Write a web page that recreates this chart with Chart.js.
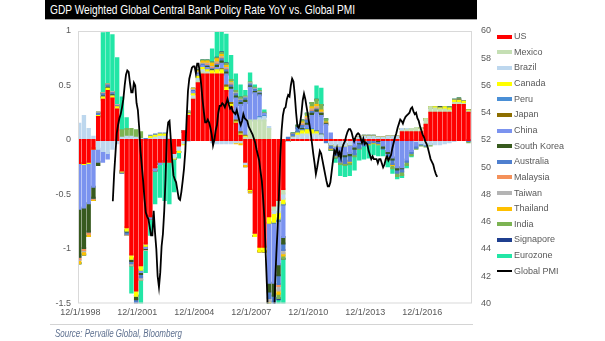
<!DOCTYPE html>
<html>
<head>
<meta charset="utf-8">
<script src="https://cdn.jsdelivr.net/npm/chart.js@4.4.1/dist/chart.umd.min.js"></script>
<style>
body{margin:0;background:#fff;}
#wrap{position:relative;width:605px;height:341px;overflow:hidden;font-family:'Liberation Sans Narrow','Liberation Sans',Arial,sans-serif;}
#c{position:absolute;left:0;top:0;}
#titlebar{position:absolute;left:45px;top:0;width:432px;height:19px;background:#000;border-bottom:1px solid #a6a6a6;}
#ttl{position:absolute;left:5px;top:2px;color:#fff;font-size:13px;white-space:nowrap;transform-origin:0 0;}
#legend{position:absolute;left:497px;top:0;width:100px;height:300px;}
.li{position:absolute;left:0;height:12px;line-height:12px;white-space:nowrap;font-size:9px;color:#595959;}
.sw{display:inline-block;width:15px;height:4px;vertical-align:middle;margin-right:2px;}
#rule{position:absolute;left:50px;top:324px;width:423px;height:0;border-top:1px solid #d4d4d4;}
#src{position:absolute;left:55px;top:328px;font-style:italic;font-size:10px;color:#5f7190;white-space:nowrap;transform-origin:0 0;}
</style>
</head>
<body>
<div id="wrap">
  <canvas id="c" width="605" height="341"></canvas>
  <div id="titlebar"><span id="ttl">GDP Weighted Global Central Bank Policy Rate YoY vs. Global PMI</span></div>
  <div id="legend"></div>
  <div id="rule"></div>
  <div id="src">Source: Pervalle Global, Bloomberg</div>
</div>
<script>
// quarterly categories, Dec 1998 .. Jun 2019
var quarters = ["12/1/1998",
  "3/1/1999","6/1/1999","9/1/1999","12/1/1999","3/1/2000","6/1/2000","9/1/2000","12/1/2000",
  "3/1/2001","6/1/2001","9/1/2001","12/1/2001","3/1/2002","6/1/2002","9/1/2002","12/1/2002",
  "3/1/2003","6/1/2003","9/1/2003","12/1/2003","3/1/2004","6/1/2004","9/1/2004","12/1/2004",
  "3/1/2005","6/1/2005","9/1/2005","12/1/2005","3/1/2006","6/1/2006","9/1/2006","12/1/2006",
  "3/1/2007","6/1/2007","9/1/2007","12/1/2007","3/1/2008","6/1/2008","9/1/2008","12/1/2008",
  "3/1/2009","6/1/2009","9/1/2009","12/1/2009","3/1/2010","6/1/2010","9/1/2010","12/1/2010",
  "3/1/2011","6/1/2011","9/1/2011","12/1/2011","3/1/2012","6/1/2012","9/1/2012","12/1/2012",
  "3/1/2013","6/1/2013","9/1/2013","12/1/2013","3/1/2014","6/1/2014","9/1/2014","12/1/2014",
  "3/1/2015","6/1/2015","9/1/2015","12/1/2015","3/1/2016","6/1/2016","9/1/2016","12/1/2016",
  "3/1/2017","6/1/2017","9/1/2017","12/1/2017","3/1/2018","6/1/2018","9/1/2018","12/1/2018",
  "3/1/2019","6/1/2019"];
var tickLabels = ["12/1/1998","12/1/2001","12/1/2004","12/1/2007","12/1/2010","12/1/2013","12/1/2016"];

// rows: Dec98 + 1999-2003 | 2004-2008 | 2009-2013 | 2014-2018 | 2019
var us = [-0.21, -0.21,-0.20,-0.08,0.21, 0.37,0.45,0.38,0.28, -0.28,-0.80,-1.05,-1.38, -1.15,-0.95,-0.70,-0.25, -0.20,-0.20,-0.20,-0.12,
  -0.05,0.08,0.22,0.37, 0.52,0.60,0.60,0.60, 0.60,0.60,0.45,0.30, 0.15,0.04,-0.20,-0.45, -0.85,-0.98,-0.98,-0.70,
  -0.60,-0.55,-0.45,0, 0,0,0,0, 0,0,0,0, 0,0,0,0, 0,0,0,0,
  0,0,0,0, 0,0,0,0.07, 0.07,0.07,0.07,0.07, 0.14,0.25,0.25,0.25, 0.25,0.25,0.32,0.32,
  0.32,0.25];
var mexico = [0, 0,0,0,0, 0,0,0,0, 0,0,0,0, 0,0,0,0, 0,0,0,0,
  0,0,0.01,0.01, 0.02,0.02,0.01,0, 0,0,0,0, 0,0,0.02,0.18, 0.18,0.18,0.18,0.10,
  -0.04,-0.05,-0.04,0, 0,0,0,0, 0,0,0,0, 0,0,0,0, 0,0,0,0,
  0,0,0,0, 0,0,0,0.01, 0.02,0.03,0.04,0.04, 0.05,0.05,0.04,0.03, 0.03,0.02,0.02,0.02,
  0.01,0.01];
var brazil = [0.15, 0.22,0.10,0.03,-0.08, -0.10,-0.12,-0.08,-0.03, 0.02,0.03,0.03,0.02, 0.01,0,0.01,0.02, 0.03,0.03,0.01,-0.04,
  -0.04,-0.03,-0.01,0.02, 0.02,0.02,0.01,-0.02, -0.03,-0.03,-0.03,-0.03, -0.02,-0.02,-0.02,0, 0,0.02,0.03,0.02,
  -0.03,-0.06,-0.05,-0.01, 0.02,0.04,0.05,0.05, 0.05,0.05,0.04,0, -0.04,-0.05,-0.05,-0.05, -0.04,0.01,0.02,0.03,
  0.03,0.03,0.02,0.02, 0.03,0.03,0.03,0.02, 0.01,0,-0.01,-0.03, -0.04,-0.04,-0.04,-0.04, -0.03,-0.02,-0.01,0,
  0,0];
var canada = [0, -0.01,-0.01,0,0.01, 0.02,0.02,0.02,0.02, -0.01,-0.03,-0.04,-0.05, -0.04,-0.02,0.02,0.02, 0.02,0.02,0,-0.01,
  -0.02,-0.01,0.01,0.02, 0.02,0.02,0.02,0.03, 0.04,0.04,0.03,0.02, 0.01,0.01,0.01,-0.01, -0.03,-0.04,-0.04,-0.06,
  -0.08,-0.06,-0.04,0, 0,0.02,0.03,0.04, 0.04,0.02,0,0, 0,0,0,0, 0,0,0,0,
  0,0,0,0, 0,0,0,0, 0,0,0,0, 0,0,0.01,0.01, 0.02,0.02,0.02,0.02,
  0.02,0.01];
var peru = [0, 0,0,0,0, 0,0,0,0, 0,0,0,0, 0,0,0,0, 0,0,0,0,
  0,0,0,0, 0,0,0,0, 0,0,0,0, 0,0,0,0, 0,0.01,0.01,0,
  -0.01,-0.02,-0.01,0, 0,0.01,0.01,0.01, 0.01,0.01,0.01,0, 0,0,0,0, 0,0,0,0,
  0,0,0,0, 0,0,0,0, 0,0,0,0, 0,0,0,0, 0,0,0,0,
  0,0];
var japan = [0, 0,0,0,0, 0,0,0,0, 0,0,0,0, 0,0,0,0, 0,0,0,0,
  0,0,0,0, 0,0,0,0, 0,0.01,0.02,0.02, 0.02,0.02,0.01,0, 0,0,0,0,
  0,0,0,0, 0,0,0,0, 0,0,0,0, 0,0,0,0, 0,0,0,0,
  0,0,0,0, 0,0,0,0, 0,0,0,0, 0,0,0,0, 0,0,0,0,
  0,0];
var china = [-0.42, -0.40,-0.37,-0.35,-0.12, -0.10,-0.05,0,0, 0,0,0,0, -0.02,-0.02,-0.02,-0.03, -0.02,0,0,0,
  0,0,0,0.02, 0.02,0.02,0.02,0, 0.02,0.05,0.10,0.12, 0.20,0.25,0.30,0.30, 0.25,0.20,0.02,-0.55,
  -0.55,-0.40,-0.30,0, 0,0,0,0.03, 0.12,0.17,0.17,0.14, 0.06,-0.03,-0.08,-0.08, -0.08,-0.06,-0.02,0,
  0,0,0,-0.05, -0.10,-0.16,-0.25,-0.25, -0.18,-0.10,-0.04,0, 0,0,0,0, 0,0,0,0,
  0,0];
var southKorea = [-0.44, -0.37,-0.26,-0.10,-0.03, 0.01,0.01,0.01,0, 0,-0.01,-0.02,-0.03, -0.02,-0.01,0,0, 0,0,0,0,
  0,0,0,0, 0,0,0.01,0.01, 0.02,0.02,0.02,0.02, 0.02,0.02,0.02,0.01, 0.01,0.01,0,-0.08,
  -0.12,-0.10,-0.06,0, 0,0,0.01,0.02, 0.02,0.02,0.02,0.01, 0,-0.01,-0.02,-0.02, -0.02,-0.02,-0.01,-0.01,
  0,0,-0.01,-0.02, -0.02,-0.02,-0.02,-0.01, 0,0,0,0, 0,0,0,0.01, 0,0,0,0.01,
  0,0];
var australia = [0, 0,0,0,0.02, 0.02,0.02,0.02,0.01, -0.01,-0.02,-0.02,-0.03, -0.03,0.01,0.01,0.01, 0.01,0.01,0,0,
  0,0,0.01,0.01, 0.01,0.01,0.01,0.01, 0.01,0.02,0.02,0.02, 0.02,0.02,0.02,0.02, 0.02,0.01,0,-0.06,
  -0.10,-0.08,-0.06,0.02, 0.03,0.04,0.03,0.03, 0.02,0.01,0,-0.02, -0.03,-0.05,-0.05,-0.06, -0.05,-0.05,-0.04,-0.04,
  -0.03,-0.02,-0.02,-0.01, -0.03,-0.04,-0.03,-0.03, -0.02,-0.02,-0.02,-0.01, -0.01,0,0,0, 0,0,0,0,
  0,-0.01];
var malaysia = [-0.02, -0.02,-0.02,-0.01,0, 0,0,0,0, 0,0,0,0, 0,0,0,0, 0,0,0,0,
  0,0,0,0, 0,0,0.01,0.01, 0.01,0.01,0.01,0.01, 0,0,0,0, 0,0,0,0,
  -0.02,-0.02,0,0, 0,0,0.01,0.01, 0.01,0.01,0,0, 0,0,0,0, 0,0,0,0,
  0,0,0,0, 0,0,0,0, 0,0,0,0, 0,0,0,0, 0,0,0,0,
  0,0];
var taiwan = [-0.01, -0.01,0,0,0.01, 0.01,0.01,0.01,0.01, 0,-0.01,-0.02,-0.03, -0.02,-0.01,0,0, 0,0,0,0,
  0,0,0.01,0.01, 0.01,0.01,0.01,0.01, 0.01,0.01,0.01,0.01, 0.01,0.01,0.01,0.01, 0.01,0.01,0,-0.03,
  -0.05,-0.04,-0.03,0, 0,0,0.01,0.01, 0.01,0.01,0.01,0, 0,0,0,0, 0,0,0,0,
  0,0,0,0, 0,0,0,0, 0,0,0,0, 0,0,0,0, 0,0,0,0,
  0,0];
var thailand = [-0.03, -0.03,-0.02,-0.01,0, 0,0,0,0, 0,0,0,0, 0,0,0,0, 0,0,0,0,
  0,0,0,0.01, 0.01,0.02,0.02,0.03, 0.03,0.02,0.02,0.01, -0.01,-0.02,-0.02,-0.02, 0,0,0,-0.01,
  -0.03,-0.03,-0.02,0, 0,0,0.01,0.01, 0.02,0.02,0.02,0.01, -0.01,0,0,0, -0.01,0,0,0,
  -0.01,-0.01,-0.01,0, -0.01,-0.01,0,0, 0,0,0,0, 0,0,0,0, 0,0,0,0,
  0,0];
var india = [0, 0,0,0,0, 0,0,0,0, 0.07,0.07,0.07,0.07, 0.06,0,0,0, 0,0,0,0,
  0,0,0,0, 0.01,0.01,0.01,0.01, 0.01,0.02,0.02,0.02, 0.02,0.02,0.01,0.01, 0.01,0.01,0.01,0,
  -0.04,-0.04,-0.03,0, 0.01,0.02,0.02,0.03, 0.04,0.05,0.05,0.03, -0.01,-0.02,-0.02,-0.02, -0.02,-0.02,-0.01,0.01,
  0.01,0.01,0,0, -0.02,-0.03,-0.03,-0.03, -0.03,-0.02,-0.01,-0.01, -0.01,-0.01,0,0, 0,0.01,0.01,0.01,
  0,-0.01];
var singapore = [0, 0,0,0,0, 0,0,0,0, 0,0,0,0, 0,0,0,0, 0,0,0,0,
  0,0,0,0, 0,0,0,0, 0.005,0.005,0.005,0, 0,0,0,0, 0,0,0,0,
  -0.01,-0.01,0,0, 0,0,0,0, 0,0,0,0, 0,0,0,0, 0,0,0,0,
  0,0,0,0, 0,0,0,0, 0,0,0,0, 0,0,0,0, 0,0,0,0,
  0,0];
var eurozone = [0, 0,0,0,0, 0.55,0.49,0.52,0.43, 0.30,0.10,-0.25,-0.20, -0.35,-0.20,-0.15,-0.30, -0.30,-0.35,-0.38,-0.30,
  -0.05,0,0,0, 0,0,0,0.12, 0.25,0.22,0.26,0.22, 0.15,0.11,0.05,0.08, 0.02,0.02,0.02,-0.30,
  -0.40,-0.50,-0.80,0, 0,0,0,0, 0,0.12,0.15,0, 0,-0.04,-0.10,-0.10, -0.10,-0.12,-0.10,-0.12,
  -0.12,-0.10,-0.10,-0.06, -0.06,-0.04,-0.02,-0.02, -0.02,-0.01,0,0, 0,0,0,0, 0,0,0,0,
  0,0];

// Global PMI, monthly from Dec 1998 (right axis)
var pmi = [47.5,
  49.5,51.0,52.5,53.1,53.6,53.9,54.4,55.0,56.0,56.8,57.1,57.0,
  56.2,55.5,55.5,56.2,56.0,54.7,54.2,52.9,51.2,50.1,49.0,47.7,
  46.7,46.4,46.2,45.6,45.0,45.0,46.8,45.2,44.0,42.0,41.2,42.3,
  44.2,45.1,46.8,49.2,52.4,53.3,53.4,52.0,50.5,49.4,49.1,48.9,
  48.3,47.7,47.6,48.2,49.0,49.9,51.2,53.6,55.6,56.5,56.9,57.3,
  57.4,57.4,56.9,57.6,57.6,56.9,56.1,55.0,54.1,53.3,53.3,53.5,
  53.3,52.9,52.4,51.6,52.0,52.7,53.1,54.0,54.5,54.5,54.7,54.6,
  54.4,54.7,55.0,54.6,54.3,54.4,54.1,54.0,53.9,54.2,53.8,53.4,
  53.1,53.4,53.9,53.6,53.5,53.4,53.0,52.8,52.6,52.4,52.1,51.8,
  51.3,50.9,50.5,49.7,49.0,47.7,46.2,43.5,41.0,38.0,36.0,34.0,
  34.0,38.0,41.3,43.6,45.6,48.0,50.8,52.7,53.8,54.3,54.4,55.0,
  55.3,55.2,56.0,56.5,56.3,55.3,54.0,53.0,52.9,53.2,53.9,54.9,
  55.4,55.0,54.4,53.8,53.2,52.6,51.8,51.0,50.3,49.5,50.0,50.6,
  51.2,51.0,50.5,50.0,49.5,49.0,48.6,48.6,48.9,49.7,50.5,51.2,
  51.0,51.4,50.9,51.1,50.7,51.4,51.7,51.9,52.3,52.6,52.8,52.8,
  52.6,52.2,51.9,52.2,52.4,52.5,52.4,52.1,51.8,52.1,51.7,51.8,
  51.7,51.2,50.9,50.6,50.8,50.6,50.6,50.6,50.3,50.6,50.6,50.3,
  50.0,50.2,50.6,50.8,50.5,50.7,50.9,51.4,51.8,52.2,52.5,52.9,
  53.2,53.5,53.4,53.2,53.5,53.7,53.8,53.9,54.0,54.3,54.4,54.1,
  53.9,54.0,53.6,53.4,53.0,52.7,52.4,52.2,51.9,51.7,51.4,51.0,
  50.6,50.4,50.2,49.8,49.5,49.3];

var seriesNames = ["US","Mexico","Brazil","Canada","Peru","Japan","China","South Korea","Australia","Malaysia","Taiwan","Thailand","India","Signapore","Eurozone"];
var seriesData = [us, mexico, brazil, canada, peru, japan, china, southKorea, australia, malaysia, taiwan, thailand, india, singapore, eurozone];
var seriesColors = ["#ff0000","#c5dfb4","#bdd7ee","#ffff00","#4a8fd6","#8d6e00","#7b93ef","#375a1e","#4f7fcf","#f4915a","#b4b4b4","#ffc000","#7cb352","#1f3f8f","#22e6a6"];

var FONT = "'Liberation Sans Narrow','Liberation Sans',Arial,sans-serif";
var TICK = '#595959';

var datasets = [];
for (var i = 0; i < seriesNames.length; i++) {
  datasets.push({
    label: seriesNames[i],
    data: seriesData[i],
    backgroundColor: seriesColors[i],
    borderWidth: 0,
    barPercentage: 1,
    categoryPercentage: 1,
    inflateAmount: 1,
    xAxisID: 'x',
    yAxisID: 'y',
    order: 1
  });
}
datasets.push({
  type: 'line',
  label: 'Global PMI',
  data: pmi.map(function(v, m){ return {x: m, y: v}; }),
  borderColor: '#000000',
  backgroundColor: '#000000',
  borderWidth: 1.8,
  pointRadius: 0,
  tension: 0,
  xAxisID: 'xm',
  yAxisID: 'y1',
  order: 0
});

// light grey box round the plot area
var frame = {
  id: 'frame',
  afterDatasetsDraw: function(chart) {
    var a = chart.chartArea, ctx = chart.ctx;
    ctx.save();
    ctx.strokeStyle = '#d9d9d9';
    ctx.lineWidth = 1;
    ctx.strokeRect(a.left + 0.5, a.top + 0.5, a.right - a.left - 1, a.bottom - a.top - 1);
    ctx.restore();
  }
};

var chart = new Chart(document.getElementById('c'), {
  type: 'bar',
  data: { labels: quarters, datasets: datasets },
  plugins: [frame],
  options: {
    responsive: false,
    animation: false,
    events: [],
    layout: { padding: { top: 31, right: 103, bottom: 19.5, left: 0 } },
    plugins: { legend: { display: false }, tooltip: { enabled: false }, title: { display: false } },
    scales: {
      x: {
        type: 'category',
        stacked: true,
        offset: true,
        grid: { display: false, drawTicks: false },
        border: { display: false },
        ticks: {
          autoSkip: false, maxRotation: 0, minRotation: 0, padding: 4,
          color: TICK, font: { size: 9, family: FONT },
          callback: function(v) { var l = this.getLabelForValue(v); return tickLabels.indexOf(l) >= 0 ? l : ''; }
        },
        afterFit: function(s) { s.height = 18; }
      },
      xm: { type: 'linear', display: false, min: -1.5, max: 247.5 },
      y: {
        stacked: true, position: 'left', min: -1.5, max: 1,
        grid: { display: false, drawTicks: false },
        border: { display: false },
        ticks: { stepSize: 0.5, padding: 7, color: TICK, font: { size: 9, family: FONT },
          callback: function(v) { return String(v); } },
        afterFit: function(s) { s.width = 78; }
      },
      y1: {
        position: 'right', min: 40, max: 60,
        grid: { display: false, drawTicks: false },
        border: { display: false },
        ticks: { stepSize: 2, padding: 9, color: TICK, font: { size: 9, family: FONT } },
        afterFit: function(s) { s.width = 30; }
      }
    }
  }
});

// legend on the right, built from the chart's datasets
var leg = document.getElementById('legend');
chart.data.datasets.forEach(function(d, i) {
  var row = document.createElement('div');
  row.className = 'li';
  row.style.top = (36 + 15.65 * i - 6) + 'px';
  var sw = document.createElement('span');
  sw.className = 'sw';
  if (d.type === 'line') { sw.style.height = '2px'; sw.style.background = d.borderColor; }
  else { sw.style.background = d.backgroundColor; }
  row.appendChild(sw);
  row.appendChild(document.createTextNode(d.label));
  leg.appendChild(row);
});

// squeeze title and source to the widths in the picture
var ttl = document.getElementById('ttl');
ttl.style.transform = 'scaleX(' + (305 / ttl.offsetWidth) + ')';
var src = document.getElementById('src');
src.style.transform = 'scaleX(' + (127 / src.offsetWidth) + ')';
</script>
</body>
</html>
